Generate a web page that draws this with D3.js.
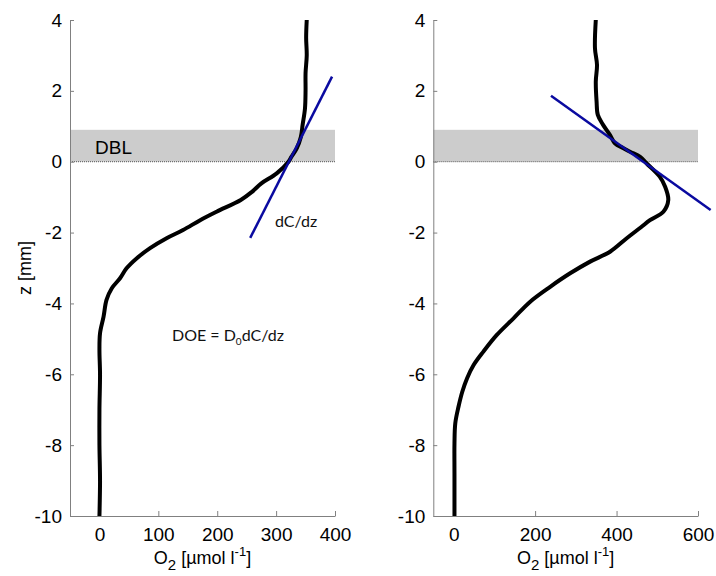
<!DOCTYPE html>
<html lang="en">
<head>
    <meta charset="UTF-8">
    <title>O2 profiles</title>
    <script src="https://d3js.org/d3.v7.min.js"></script>
    <style>
        body {
            margin: 0;
            background: #fff;
        }
        svg {
            font-family: "Liberation Sans", Arial, sans-serif;
        }
        .axis path,
        .axis line {
            stroke: #808080;
        }
        .axis text {
            font-size: 19px;
            fill: #000;
        }
        .axis-label {
            font-size: 18px;
            fill: #000;
        }
        .note {
            font-family: Lato, "Open Sans", sans-serif;
            font-size: 16px;
            fill: #111;
        }
    </style>
</head>
<body>
    <svg id="chart" width="716" height="576"></svg>

    <script>
        // depth (mm) and O2 (umol/l)
        const leftZ  = [4, 3.5, 3, 2.5, 2, 1.5, 1.04, 0.7, 0.38, 0.14, 0, -0.33, -0.61, -0.85, -1.08, -1.41, -1.65, -1.93, -2.16, -2.44, -2.73, -3.01, -3.29, -3.57, -3.9, -4.37, -4.84, -5.31, -6, -7, -8, -9, -10];
        const leftO2 = [352, 351, 352, 350, 350, 349, 345, 342, 335, 326, 321, 301, 275, 259, 240, 199, 171, 142, 114, 86, 63, 46, 35, 21, 12, 7, 1, 0, 1, 0, 0, 1, 0];

        const rightZ  = [4, 3.2, 2.73, 2.26, 1.69, 1.32, 1.04, 0.75, 0.52, 0.38, 0.28, 0.14, -0.05, -0.42, -0.7, -1.08, -1.41, -1.65, -1.85, -2.16, -2.54, -2.82, -3.15, -3.53, -3.95, -4.42, -4.89, -5.36, -5.74, -6.11, -6.5, -6.91, -7.38, -7.95, -8.8, -10];
        const rightO2 = [349, 347, 352, 349, 351, 354, 367, 384, 396, 417, 433, 458, 474, 506, 519, 527, 515, 482, 460, 425, 384, 335, 286, 237, 188, 147, 106, 73, 49, 33, 21, 12, 4, 2, 2, 2];

        // tangent (dC/dz) lines: [O2, z] end points
        const leftTangent  = [[256, -2.15], [395, 2.4]];
        const rightTangent = [[239, 1.86], [631, -1.36]];

        const dblTop = 0.9;
        const yTicks = [-10, -8, -6, -4, -2, 0, 2, 4];
        const leftXTicks = [0, 100, 200, 300, 400];
        const rightXTicks = [0, 200, 400, 600];

        const svg = d3.select("#chart");

        const y = d3.scaleLinear().domain([-10, 4]).range([516, 20]);
        const plain = d => String(d);

        function drawPanel(xDomain, xRange, xTicks, zs, o2s, tangent) {
            const x = d3.scaleLinear().domain(xDomain).range(xRange);
            const g = svg.append("g");

            // DBL band
            g.append("rect")
                .attr("x", xRange[0])
                .attr("y", y(dblTop))
                .attr("width", xRange[1] - xRange[0])
                .attr("height", y(0) - y(dblTop))
                .attr("fill", "#cccccc");

            g.append("line")
                .attr("x1", xRange[0])
                .attr("x2", xRange[1])
                .attr("y1", y(0))
                .attr("y2", y(0))
                .attr("stroke", "#555")
                .attr("stroke-width", 1)
                .attr("stroke-dasharray", "1,1");

            // axes, ticks pointing inward
            g.append("g")
                .attr("class", "axis")
                .attr("transform", `translate(0,${y(-10)})`)
                .call(d3.axisBottom(x).tickValues(xTicks).tickFormat(plain).tickSizeInner(-5).tickSizeOuter(0).tickPadding(12))
                .call(s => s.selectAll("text").attr("dy", "0.71em"));

            g.append("g")
                .attr("class", "axis")
                .attr("transform", `translate(${xRange[0]},0)`)
                .call(d3.axisLeft(y).tickValues(yTicks).tickFormat(plain).tickSizeInner(-4).tickSizeOuter(0).tickPadding(8));

            // profile
            const pts = zs.map((z, i) => [o2s[i], z]);
            g.append("path")
                .datum(pts)
                .attr("fill", "none")
                .attr("stroke", "#000")
                .attr("stroke-width", 4)
                .attr("stroke-linejoin", "round")
                .attr("d", d3.line().curve(d3.curveCatmullRom.alpha(0.5)).x(d => x(d[0])).y(d => y(d[1])));

            // tangent
            g.append("path")
                .datum(tangent)
                .attr("fill", "none")
                .attr("stroke", "#0a0aa0")
                .attr("stroke-width", 2.5)
                .attr("d", d3.line().x(d => x(d[0])).y(d => y(d[1])));

            // x label: O2 [umol l-1]
            const lbl = g.append("text")
                .attr("class", "axis-label")
                .attr("x", (xRange[0] + xRange[1]) / 2)
                .attr("y", 564)
                .attr("text-anchor", "middle");
            lbl.append("tspan").text("O");
            lbl.append("tspan").attr("font-size", 15).attr("dy", 6).text("2");
            lbl.append("tspan").attr("dy", -6).text(" [µmol l");
            lbl.append("tspan").attr("font-size", 13).attr("dy", -8).text("-1");
            lbl.append("tspan").attr("dy", 8).text("]");

            return x;
        }

        drawPanel([-50, 400], [70, 335], leftXTicks, leftZ, leftO2, leftTangent);
        drawPanel([-50, 600], [433.3, 698], rightXTicks, rightZ, rightO2, rightTangent);

        // y label
        svg.append("text")
            .attr("class", "axis-label")
            .attr("transform", "translate(31,268) rotate(-90)")
            .attr("text-anchor", "middle")
            .text("z [mm]");

        // annotations
        svg.append("text")
            .attr("x", 95)
            .attr("y", 154)
            .attr("font-size", 19)
            .text("DBL");

        svg.append("text")
            .attr("class", "note")
            .attr("x", 275)
            .attr("y", 227)
            .text("dC/dz");

        const doe = svg.append("text")
            .attr("class", "note")
            .attr("x", 172)
            .attr("y", 341);
        doe.append("tspan").text("DOE = D");
        doe.append("tspan").attr("font-size", 10).attr("dy", 4).text("0");
        doe.append("tspan").attr("dy", -4).text("dC/dz");
    </script>
</body>
</html>
